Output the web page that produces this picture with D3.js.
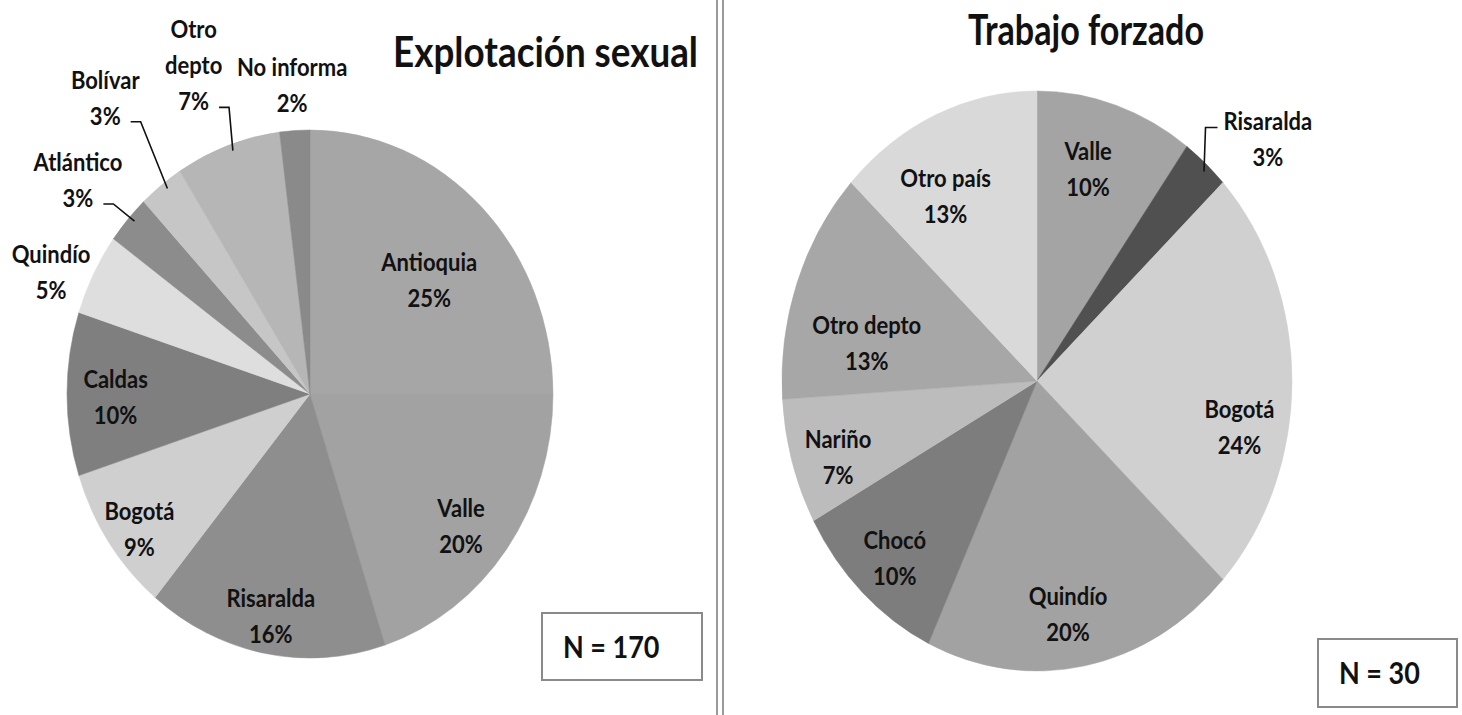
<!DOCTYPE html>
<meta charset="utf-8">
<style>
body { margin: 0; background: #fff; }
svg { display: block; }
text { font-family: Lato, "Open Sans", sans-serif; font-weight: bold; fill: #111; }
</style>
<body>
<svg id="chart" width="1462" height="715"></svg>
<script src="https://d3js.org/d3.v7.min.js"></script>
<script>
// Data
var sexLabels = ["Antioquia", "Valle", "Risaralda", "Bogotá", "Caldas", "Quindío", "Atlántico", "Bolívar", "Otro\ndepto", "No informa"];
var sexValues = [25, 20, 16, 9, 10, 5, 3, 3, 7, 2];
var sexColors = ["#a6a6a6", "#a2a2a2", "#8e8e8e", "#cfcfcf", "#7f7f7f", "#dedede", "#8c8c8c", "#c6c6c6", "#b6b6b6", "#8a8a8a"];

var forcedLabels = ["Valle", "Risaralda", "Bogotá", "Quindío", "Chocó", "Nariño", "Otro depto", "Otro país"];
var forcedValues = [10, 3, 24, 20, 10, 7, 13, 13];
var forcedColors = ["#a4a4a4", "#505050", "#d0d0d0", "#a2a2a2", "#7d7d7d", "#bcbcbc", "#a7a7a7", "#d9d9d9"];

// label placement: [radius factor, angle shift in degrees]
var sexLabelPos = [[0.65, 4], [0.80, 3], [0.86, 0], [0.87, -2], [0.80, -1], [1.16, -3.7], [1.25, -1.2], [1.40, 0.8], [1.33, -1.3], [1.17, 0]];
var forcedLabelPos = [[0.755, -2.6], [1.23, 6], [0.81, 11.5], [0.816, 2.2], [0.83, -1], [0.824, -2.6], [0.68, -9], [0.73, -6]];
var sexLeaders = ["Atlántico", "Bolívar", "Otro\ndepto"];
var forcedLeaders = ["Risaralda"];

var svg = d3.select("#chart");
var vs = 1.14; // original image is stretched vertically

// divider
[717, 723].forEach(function (x) {
  svg.append("line").attr("x1", x).attr("x2", x).attr("y1", 0).attr("y2", 715)
    .attr("stroke", "#9a9a9a").attr("stroke-width", 2);
});

function drawPie(cfg) {
  var pie = d3.pie().sort(null).value(function (d) { return d; });
  var arcs = pie(cfg.values);
  var arc = d3.arc().innerRadius(0).outerRadius(cfg.rx);

  var g = svg.append("g")
    .attr("transform", "translate(" + cfg.cx + "," + cfg.cy + ") scale(1," + (cfg.ry / cfg.rx) + ")");
  g.selectAll("path").data(arcs).enter().append("path")
    .attr("d", arc)
    .attr("fill", function (d, i) { return cfg.colors[i]; })
    .attr("stroke", function (d, i) { return cfg.colors[i]; })
    .attr("stroke-width", 0.5);

  function polar(a, k) {
    return [cfg.cx + k * cfg.rx * Math.sin(a), cfg.cy - k * cfg.ry * Math.cos(a)];
  }

  var lineH = 36;
  arcs.forEach(function (d, i) {
    var mid = (d.startAngle + d.endAngle) / 2;
    var lp = cfg.labelPos[i];
    var p = polar(mid + lp[1] * Math.PI / 180, lp[0]);
    var pct = Math.round(d.value / d3.sum(cfg.values) * 100) + "%";
    var lines = cfg.labels[i].split("\n").concat([pct]);
    var n = lines.length;

    var t = svg.append("text")
      .attr("text-anchor", "middle")
      .attr("font-size", 22)
      .attr("transform", "translate(" + p[0] + "," + p[1] + ") scale(1," + vs + ")");
    var tsp = [];
    lines.forEach(function (s, j) {
      tsp.push(t.append("tspan").attr("x", 0)
        .attr("y", ((j - (n - 1) / 2) * lineH) / vs + 7)
        .text(s));
    });

    // leader line: short horizontal tick next to the label, then to the slice edge
    if (cfg.leaders.indexOf(cfg.labels[i]) >= 0) {
      var edge = polar(mid + 0.8 * Math.PI / 180, 0.975), start, elbow;
      if (p[0] < cfg.cx) {
        var w = tsp[n - 1].node().getComputedTextLength();
        var y = p[1] + ((n - 1) / 2) * lineH + 5;
        start = [p[0] + w / 2 + 10, y];
        elbow = [start[0] + 10, y];
      } else {
        var w0 = tsp[0].node().getComputedTextLength();
        var y0 = p[1] - ((n - 1) / 2) * lineH + 6;
        start = [p[0] - w0 / 2 - 6, y0];
        elbow = [start[0] - 12, y0];
      }
      svg.append("path")
        .attr("d", d3.line()([start, elbow, edge]))
        .attr("fill", "none").attr("stroke", "#111").attr("stroke-width", 1.6);
    }
  });

  // title
  svg.append("text")
    .attr("text-anchor", "middle")
    .attr("font-size", 36)
    .attr("textLength", cfg.titleW).attr("lengthAdjust", "spacingAndGlyphs")
    .attr("transform", "translate(" + cfg.titleX + "," + cfg.titleY + ") scale(1," + vs + ")")
    .text(cfg.title);

  // N box
  var b = cfg.box;
  svg.append("rect").attr("x", b[0]).attr("y", b[1]).attr("width", b[2]).attr("height", b[3])
    .attr("fill", "#fff").attr("stroke", "#8a8a8a").attr("stroke-width", 2);
  svg.append("text")
    .attr("font-size", 27)
    .attr("transform", "translate(" + (b[0] + 21) + "," + (b[1] + b[3] / 2 + 11) + ") scale(1," + vs + ")")
    .text(cfg.n);
}

drawPie({
  values: sexValues, labels: sexLabels, colors: sexColors, labelPos: sexLabelPos, leaders: sexLeaders,
  cx: 310, cy: 394, rx: 243, ry: 264,
  title: "Explotación sexual", titleX: 545.5, titleY: 67, titleW: 305,
  box: [542, 613, 160, 67], n: "N = 170"
});

drawPie({
  values: forcedValues, labels: forcedLabels, colors: forcedColors, labelPos: forcedLabelPos, leaders: forcedLeaders,
  cx: 1037, cy: 381, rx: 255, ry: 290,
  title: "Trabajo forzado", titleX: 1086, titleY: 45, titleW: 236,
  box: [1318, 639, 139, 68], n: "N = 30"
});
</script>
</body>
